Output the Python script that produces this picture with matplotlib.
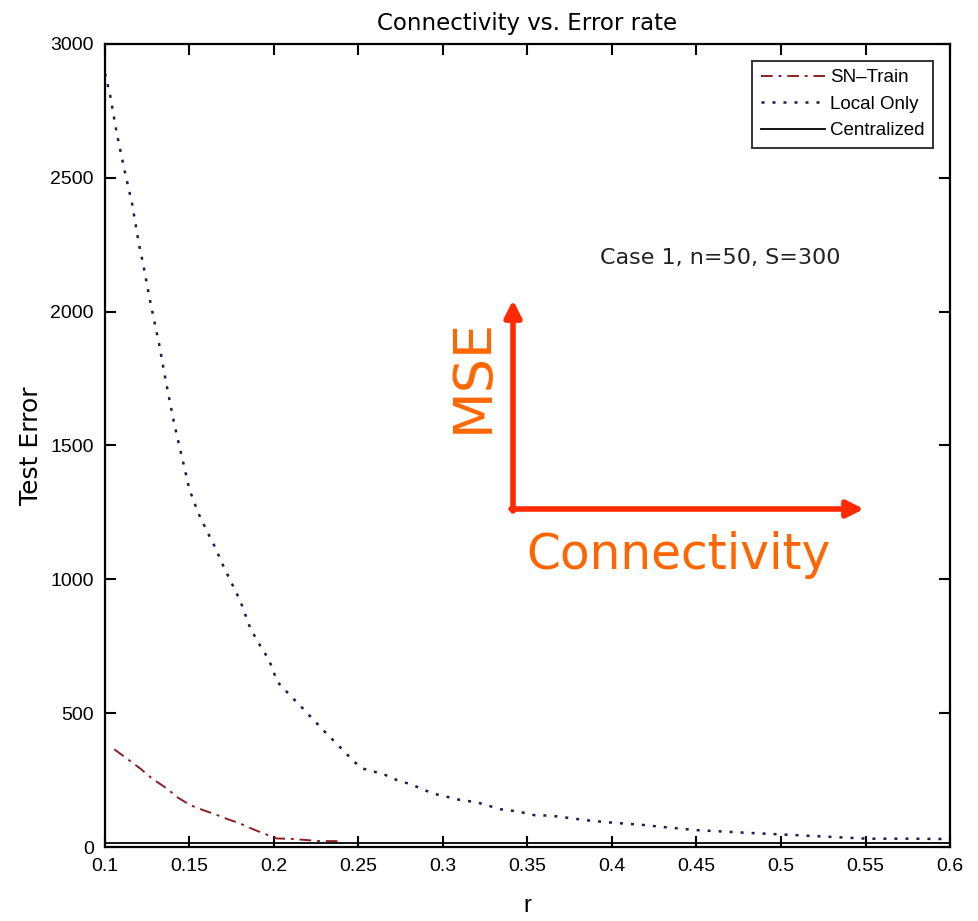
import matplotlib
matplotlib.use("Agg")
import matplotlib.pyplot as plt

# ---- data ----
r_local = [0.100, 0.103, 0.107, 0.112, 0.116, 0.120, 0.1225, 0.127, 0.132, 0.136,
           0.141, 0.145, 0.150, 0.155, 0.160, 0.165, 0.170, 0.175, 0.180, 0.186,
           0.192, 0.197, 0.202, 0.209, 0.217, 0.224, 0.232, 0.240, 0.247, 0.252,
           0.260, 0.266, 0.271, 0.281, 0.294, 0.310, 0.320, 0.334, 0.344, 0.354,
           0.364, 0.375, 0.389, 0.400, 0.419, 0.428, 0.450, 0.480, 0.500, 0.529,
           0.551, 0.575, 0.596]
mse_local = [2890, 2810, 2665, 2515, 2405, 2255, 2180, 2030, 1880, 1740,
             1580, 1471, 1335, 1250, 1184, 1122, 1050, 985, 920, 817,
             750, 700, 617, 570, 518, 471, 418, 367, 321, 294,
             280, 269, 254, 234, 200, 176, 167, 141, 133, 119,
             117, 108, 97, 91, 82, 76, 63, 53, 47, 38,
             31, 31, 30]

r_sn = [0.1055, 0.113, 0.1207, 0.128, 0.1365, 0.143, 0.1503, 0.158, 0.1661, 0.173,
        0.1799, 0.187, 0.1937, 0.2016, 0.2112, 0.219, 0.2272, 0.234, 0.241]
mse_sn = [365, 330, 294, 255, 219, 185, 157, 138, 120, 103,
          88, 68, 51, 32, 30, 26, 22, 22, 22]

r_central = [0.1, 0.6]
mse_central = [15, 15]

xticks = [0.1, 0.15, 0.2, 0.25, 0.3, 0.35, 0.4, 0.45, 0.5, 0.55, 0.6]
xticklabels = ["0.1", "0.15", "0.2", "0.25", "0.3", "0.35", "0.4", "0.45", "0.5", "0.55", "0.6"]
yticks = [0, 500, 1000, 1500, 2000, 2500, 3000]
yticklabels = ["0", "500", "1000", "1500", "2000", "2500", "3000"]

plt.rcParams['font.family'] = ['Liberation Sans', 'DejaVu Sans']

fig = plt.figure(figsize=(9.79, 9.21), dpi=100)
ax = fig.add_axes([105/979, 1-847/921, 845/979, 803/921])

ax.plot(r_sn, mse_sn, color="#8b2020", linestyle=(0, (6, 3, 1.5, 3)), linewidth=1.4, label="SN\u2013Train")
ax.plot(r_local, mse_local, color="#1c1c50", linestyle=(0, (1.2, 3.2)), linewidth=1.8, label="Local Only")
ax.plot(r_central, mse_central, color="black", linestyle="-", linewidth=1.3, label="Centralized")

ax.set_xlim(0.1, 0.6)
ax.set_ylim(0, 3000)
ax.set_xticks(xticks)
ax.set_xticklabels(xticklabels)
ax.set_yticks(yticks)
ax.set_yticklabels(yticklabels)
ax.tick_params(direction="in", length=8, width=1.5, top=True, right=True,
               labelsize=14, pad=8)
for s in ax.spines.values():
    s.set_linewidth(1.6)

ax.set_title("Connectivity vs. Error rate", fontsize=16.5, pad=10, family="DejaVu Sans")
ax.set_ylabel("Test Error", fontsize=18, labelpad=5, family="DejaVu Sans")
ax.set_xlabel("r", fontsize=17, labelpad=14)

leg = ax.legend(loc="upper right", fontsize=13.5, frameon=True, fancybox=False,
                edgecolor="black", handlelength=3.4, handletextpad=0.3,
                borderpad=0.45, labelspacing=0.5, borderaxespad=0.9)
leg.get_frame().set_linewidth(1.4)

ax.text(0.5857, 0.734, "Case 1, n=50, S=300", transform=ax.transAxes,
        fontsize=16, ha="left", va="center", family="DejaVu Sans", color="#222222")

# orange overlay (figure-fraction coordinates)
def fx(px):
    return px / 979
def fy(py):
    return 1 - py / 921

arrow_col = "#ff2a00"
fig.add_artist(matplotlib.patches.FancyArrowPatch(
    (fx(513), fy(511)), (fx(513), fy(300)), transform=fig.transFigure,
    arrowstyle="-|>,head_length=10,head_width=5", color=arrow_col, linewidth=4,
    shrinkA=0, shrinkB=0))
fig.add_artist(matplotlib.patches.FancyArrowPatch(
    (fx(511), fy(509)), (fx(864), fy(509)), transform=fig.transFigure,
    arrowstyle="-|>,head_length=10,head_width=5", color=arrow_col, linewidth=4,
    shrinkA=0, shrinkB=0))
fig.text(fx(473), fy(375), "MSE", rotation=90, fontsize=39, color="#ff6600",
         ha="center", va="center", family="DejaVu Sans")
fig.text(fx(678), fy(555), "Connectivity", fontsize=35, color="#ff6600",
         ha="center", va="center", family="DejaVu Sans")

fig.savefig("out.png", dpi=100)
